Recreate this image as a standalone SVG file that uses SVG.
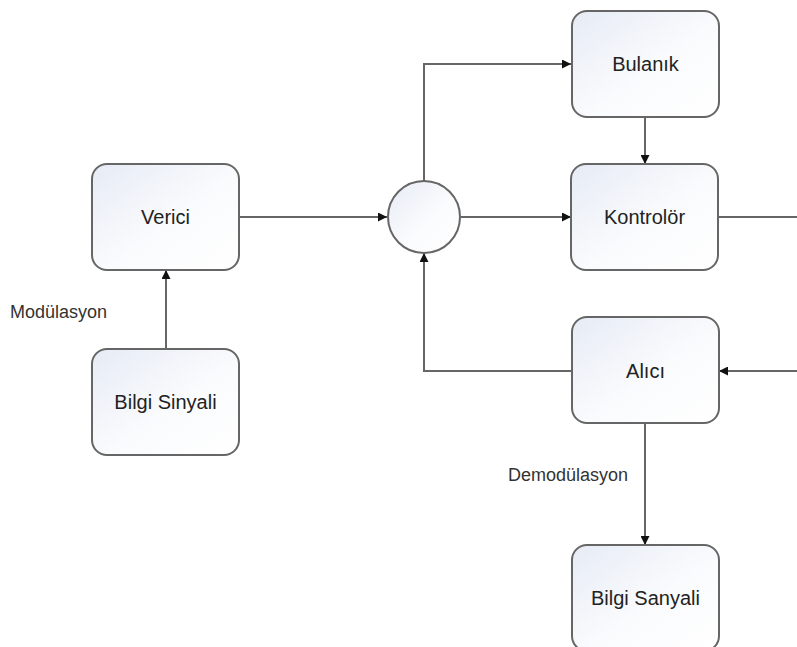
<svg xmlns="http://www.w3.org/2000/svg" width="797" height="647" viewBox="0 0 797 647">
  <defs>
    <linearGradient id="boxFill" x1="0" y1="0" x2="1" y2="1">
      <stop offset="0" stop-color="#e6ebf5"/>
      <stop offset="0.55" stop-color="#fafbfd"/>
      <stop offset="1" stop-color="#ffffff"/>
    </linearGradient>
    <marker id="arrow" viewBox="0 0 10 10" refX="10" refY="5" markerWidth="9" markerHeight="9" markerUnits="userSpaceOnUse" orient="auto">
      <path d="M0,0 L10,5 L0,10 z" fill="#111"/>
    </marker>
  </defs>
  <style>
    .box { fill: url(#boxFill); stroke: #666; stroke-width: 2; }
    .node-text { font-family: "Liberation Sans", Arial, sans-serif; font-size: 20px; fill: #222; text-anchor: middle; }
    .label { font-family: "Liberation Sans", Arial, sans-serif; font-size: 18px; fill: #333; }
    .conn { fill: none; stroke: #666; stroke-width: 2; }
  </style>
  <rect width="797" height="647" fill="#ffffff"/>

  <g id="connectors">
    <path class="conn" d="M239,217 H387" marker-end="url(#arrow)"/>
    <path class="conn" d="M166,349 V270" marker-end="url(#arrow)"/>
    <path class="conn" d="M424,182 V64 H571" marker-end="url(#arrow)"/>
    <path class="conn" d="M461,217 H571" marker-end="url(#arrow)"/>
    <path class="conn" d="M645,117 V164" marker-end="url(#arrow)"/>
    <path class="conn" d="M718,217 H798 V371 H719" marker-end="url(#arrow)"/>
    <path class="conn" d="M572,371 H424 V253" marker-end="url(#arrow)"/>
    <path class="conn" d="M645,423 V545" marker-end="url(#arrow)"/>
  </g>

  <g id="verici">
    <rect class="box" x="92" y="164" width="147" height="106" rx="15"/>
    <text class="node-text" x="165.5" y="224">Verici</text>
  </g>
  <g id="bilgi-sinyali">
    <rect class="box" x="92" y="349" width="147" height="106" rx="15"/>
    <text class="node-text" x="165.5" y="409">Bilgi Sinyali</text>
  </g>
  <g id="toplama">
    <circle class="box" cx="424" cy="217" r="36"/>
  </g>
  <g id="bulanik">
    <rect class="box" x="572" y="11" width="147" height="106" rx="15"/>
    <text class="node-text" x="645.5" y="71">Bulanık</text>
  </g>
  <g id="kontrolor">
    <rect class="box" x="571" y="164" width="147" height="106" rx="15"/>
    <text class="node-text" x="644.5" y="224">Kontrolör</text>
  </g>
  <g id="alici">
    <rect class="box" x="572" y="317" width="147" height="106" rx="15"/>
    <text class="node-text" x="645.5" y="378">Alıcı</text>
  </g>
  <g id="bilgi-sanyali">
    <rect class="box" x="572" y="545" width="147" height="106" rx="15"/>
    <text class="node-text" x="645.5" y="605">Bilgi Sanyali</text>
  </g>

  <g id="labels">
    <text class="label" x="10" y="318">Modülasyon</text>
    <text class="label" x="508" y="481">Demodülasyon</text>
  </g>
</svg>
